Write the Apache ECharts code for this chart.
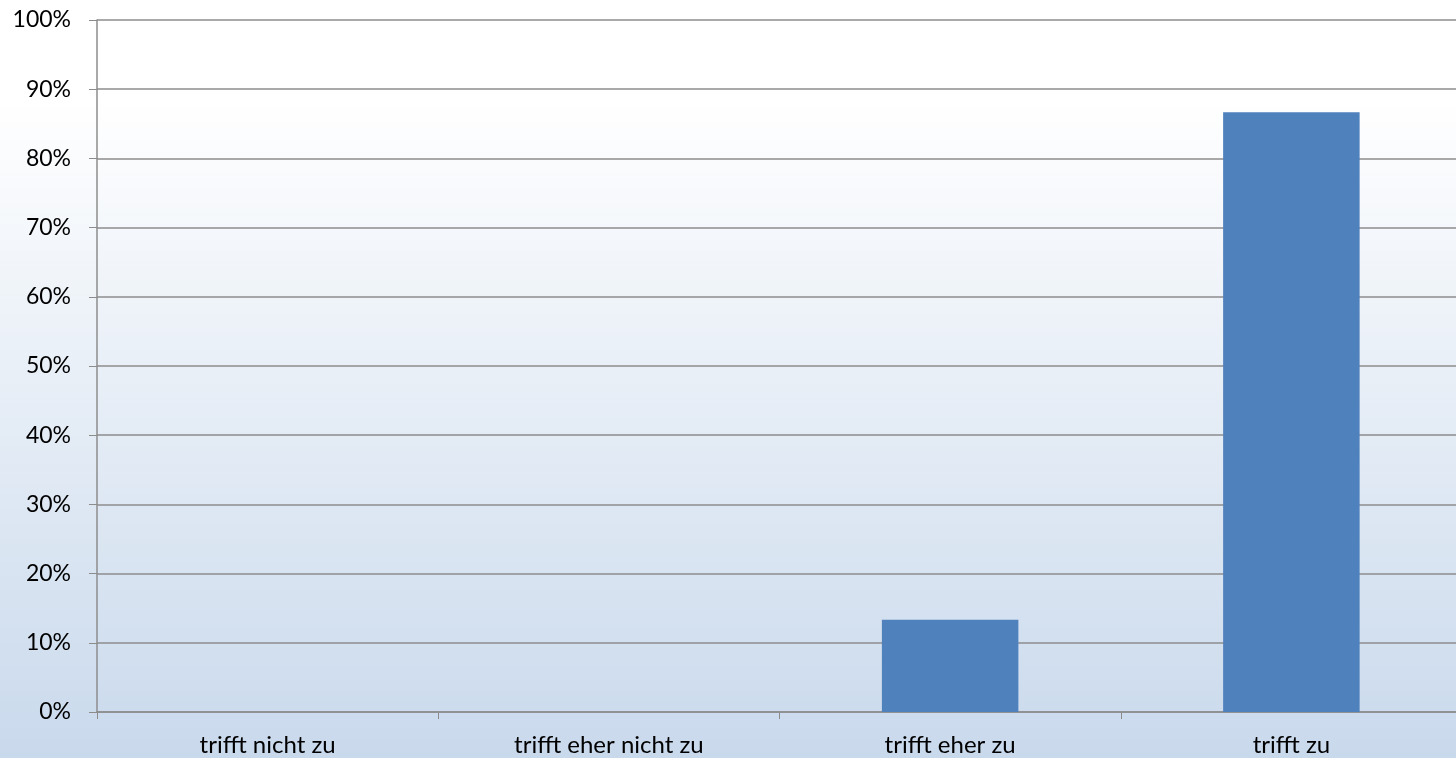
<!DOCTYPE html>
<html>
<head>
<meta charset="utf-8">
<script src="https://cdn.jsdelivr.net/npm/echarts@6/dist/echarts.min.js"></script>
<style>
  html, body { margin: 0; padding: 0; }
  #chart { width: 1456px; height: 758px; }
</style>
</head>
<body>
<div id="chart"></div>
<script>
// Antwortkategorien und Anteile (in Prozent)
const categories = ['trifft nicht zu', 'trifft eher nicht zu', 'trifft eher zu', 'trifft zu'];
const shares = [0, 0, 13.33, 86.67];

const gridColor = '#8c8c8c';
const textFont = 'Lato, "Open Sans", sans-serif';

const chart = echarts.init(document.getElementById('chart'));
chart.setOption({
  animation: false,
  backgroundColor: new echarts.graphic.LinearGradient(0, 0, 0, 1, [
    { offset: 0, color: '#ffffff' },
    { offset: 0.13, color: '#ffffff' },
    { offset: 1, color: '#c9d9ec' }
  ]),
  grid: { left: 97, right: -6, top: 20, bottom: 46, outerBoundsMode: 'none' },
  xAxis: {
    type: 'category',
    data: categories,
    axisLine: { lineStyle: { color: gridColor, width: 1.5 } },
    axisTick: { show: true, length: 7, lineStyle: { color: gridColor } },
    axisLabel: { color: '#000', fontFamily: textFont, fontSize: 24, margin: 21 }
  },
  yAxis: {
    type: 'value',
    min: 0,
    max: 100,
    interval: 10,
    axisLine: { show: true, lineStyle: { color: gridColor, width: 1.5 } },
    axisTick: { show: true, length: 8, lineStyle: { color: gridColor } },
    splitLine: { lineStyle: { color: gridColor, width: 1.5 } },
    axisLabel: { color: '#000', fontFamily: textFont, fontSize: 23, margin: 26, formatter: '{value}%' }
  },
  series: [{
    type: 'bar',
    data: shares,
    barWidth: '40%',
    itemStyle: { color: '#4f81bd' }
  }]
});
</script>
</body>
</html>
